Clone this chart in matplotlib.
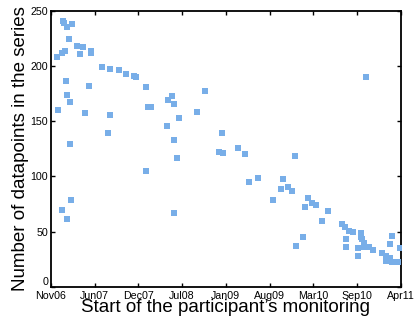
import matplotlib
matplotlib.use("Agg")
import matplotlib.pyplot as plt
import matplotlib.transforms as mtransforms

# x: months since Nov 2006 (start of monitoring); y: number of datapoints
months = [1.86, 1.97, 2.38, 3.23, 2.73, 3.99, 4.80, 4.40, 6.02, 6.11, 2.12, 1.71, 0.95,
          7.68, 8.99, 10.26, 11.32, 12.53, 12.84, 14.35, 14.75, 15.16, 17.69, 2.27, 5.76,
          2.42, 2.93, 1.02, 5.11, 8.99, 8.59, 17.63, 2.83, 14.44, 1.71, 3.03, 2.42,
          23.29, 18.38, 18.69, 22.17, 19.35, 25.87, 18.69, 28.34, 19.14, 25.51, 26.11,
          29.45, 18.64, 29.96, 31.37, 35.12, 34.86, 35.97, 33.69, 36.98, 36.48, 38.91,
          38.50, 39.51, 40.12, 42.03, 41.03, 38.15, 37.18, 44.06, 44.60, 45.17, 45.82,
          46.98, 46.98, 47.09, 44.71, 44.71, 46.48, 46.57, 47.48, 47.48, 48.24, 48.85,
          50.12, 50.73, 50.73, 51.38, 51.68, 52.29, 52.64, 51.64, 51.38, 52.94, 47.70]
datapoints = [240.9, 238.8, 235.2, 238.2, 224.3, 218.2, 217.0, 211.0, 214.0, 211.6, 214.0,
              211.6, 208.0, 198.9, 197.1, 196.2, 192.8, 191.0, 190.1, 180.8, 162.9, 162.9,
              169.0, 186.2, 182.0, 173.5, 167.2, 159.9, 157.2, 155.7, 139.1, 145.7, 129.1,
              104.6, 69.5, 78.3, 61.6, 177.2, 172.9, 165.9, 158.7, 152.9, 139.1, 132.7,
              126.0, 116.7, 121.8, 120.9, 120.0, 66.8, 94.7, 98.8, 97.6, 88.6, 90.7, 78.6,
              118.8, 86.8, 80.7, 72.5, 75.6, 73.8, 68.9, 59.3, 44.8, 36.6, 56.8, 54.4, 50.8,
              49.3, 48.4, 45.3, 43.0, 43.0, 35.7, 34.8, 27.6, 39.3, 35.7, 35.7, 33.3, 30.3,
              28.1, 23.6, 26.3, 22.7, 22.7, 22.7, 46.0, 38.4, 34.8, 189.8]

tick_labels = ["Nov06", "Jun07", "Dec07", "Jul08", "Jan09", "Aug09", "Mar10", "Sep10", "Apr11"]
x_span = 53.0
y_ticks = [0, 50, 100, 150, 200, 250]

plt.rcParams['font.family'] = ['Liberation Sans', 'DejaVu Sans']

fig = plt.figure(figsize=(4.15, 3.2), dpi=100)
ax = fig.add_axes([0.1229, 0.104, 0.8426, 0.8616])

ax.scatter(months, datapoints, marker='s', s=18, color='#78aee8', linewidths=0, zorder=3)

ax.set_xlim(0, x_span)
ax.set_ylim(0, 250)
ax.set_xticks([x_span * i / (len(tick_labels) - 1) for i in range(len(tick_labels))])
ax.set_xticklabels(tick_labels)
ax.set_yticks(y_ticks)
ax.tick_params(direction='in', length=3, width=1, labelsize=7.7, pad=2,
               top=True, right=True, colors='black')
ax.tick_params(axis='x', pad=3)
for s in ax.spines.values():
    s.set_linewidth(1.3)

# lift the "0" label slightly so it clears "Nov06" (as in the reference)
fig.canvas.draw()
zero_lbl = ax.get_yticklabels()[0]
zero_lbl.set_transform(zero_lbl.get_transform() +
                       mtransforms.ScaledTranslation(0, 4 / 72, fig.dpi_scale_trans))

ax.set_xlabel("Start of the participant\u2019s monitoring", fontsize=13.5, labelpad=-1)
ax.set_ylabel("Number of datapoints in the series", fontsize=13.5, labelpad=1)

fig.savefig("out.png", dpi=100)
